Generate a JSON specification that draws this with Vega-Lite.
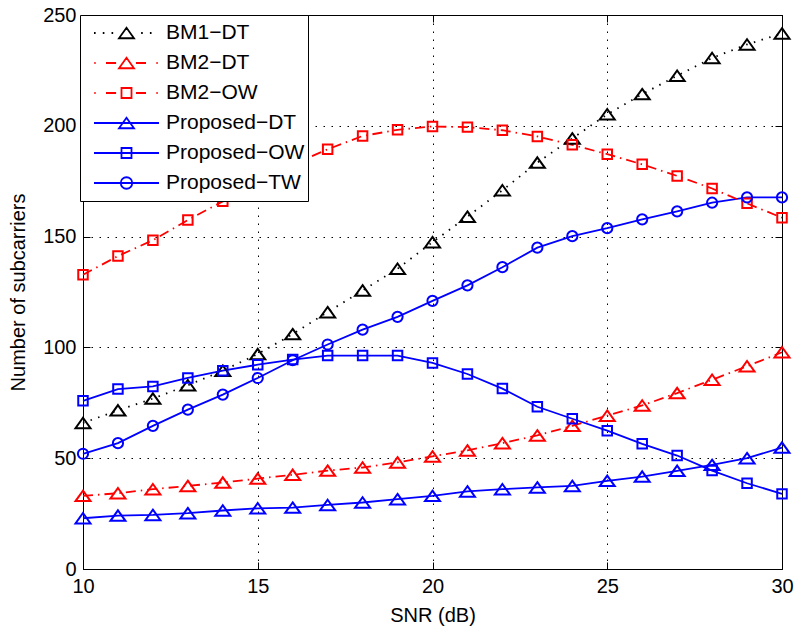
{
  "$schema": "https://vega.github.io/schema/vega-lite/v6.json",
  "width": 699,
  "height": 554,
  "autosize": {"type": "none"},
  "padding": {"left": 83, "top": 15, "right": 13, "bottom": 58},
  "background": "white",
  "view": {"stroke": "black", "strokeWidth": 1},
  "config": {
    "font": "Liberation Sans",
    "axis": {
      "labelFont": "Liberation Sans", "labelFontSize": 20, "labelColor": "black", "labelFlush": false,
      "titleFont": "Liberation Sans", "titleFontSize": 20, "titleFontWeight": "normal", "titleColor": "black",
      "domainColor": "black", "domainWidth": 1, "tickColor": "black", "tickSize": -7, "tickWidth": 1,
      "gridColor": "black", "gridOpacity": 1, "gridDash": [1.5, 6.5], "gridWidth": 1
    }
  },
  "data": {
    "values": [
      {"snr": 10, "BM1−DT": 65.9, "BM2−DT": 33.0, "BM2−OW": 132.8, "Proposed−DT": 22.9, "Proposed−OW": 75.9, "Proposed−TW": 52.0},
      {"snr": 11, "BM1−DT": 71.6, "BM2−DT": 34.2, "BM2−OW": 141.2, "Proposed−DT": 24.1, "Proposed−OW": 81.2, "Proposed−TW": 56.8},
      {"snr": 12, "BM1−DT": 76.9, "BM2−DT": 36.0, "BM2−OW": 148.4, "Proposed−DT": 24.4, "Proposed−OW": 82.4, "Proposed−TW": 64.6},
      {"snr": 13, "BM1−DT": 82.9, "BM2−DT": 37.5, "BM2−OW": 157.5, "Proposed−DT": 25.2, "Proposed−OW": 86.2, "Proposed−TW": 71.9},
      {"snr": 14, "BM1−DT": 89.5, "BM2−DT": 39.0, "BM2−OW": 165.9, "Proposed−DT": 26.4, "Proposed−OW": 89.5, "Proposed−TW": 78.7},
      {"snr": 15, "BM1−DT": 97.0, "BM2−DT": 40.8, "BM2−OW": 174.5, "Proposed−DT": 27.4, "Proposed−OW": 92.2, "Proposed−TW": 86.2},
      {"snr": 16, "BM1−DT": 106.0, "BM2−DT": 42.5, "BM2−OW": 182.5, "Proposed−DT": 27.7, "Proposed−OW": 94.5, "Proposed−TW": 94.2},
      {"snr": 17, "BM1−DT": 115.9, "BM2−DT": 44.4, "BM2−OW": 189.4, "Proposed−DT": 28.9, "Proposed−OW": 96.3, "Proposed−TW": 101.3},
      {"snr": 18, "BM1−DT": 125.7, "BM2−DT": 45.8, "BM2−OW": 195.4, "Proposed−DT": 30.0, "Proposed−OW": 96.3, "Proposed−TW": 108.0},
      {"snr": 19, "BM1−DT": 135.5, "BM2−DT": 48.1, "BM2−OW": 198.2, "Proposed−DT": 31.5, "Proposed−OW": 96.3, "Proposed−TW": 113.8},
      {"snr": 20, "BM1−DT": 147.5, "BM2−DT": 50.8, "BM2−OW": 199.7, "Proposed−DT": 33.0, "Proposed−OW": 93.0, "Proposed−TW": 121.0},
      {"snr": 21, "BM1−DT": 159.0, "BM2−DT": 53.5, "BM2−OW": 199.4, "Proposed−DT": 35.0, "Proposed−OW": 88.0, "Proposed−TW": 128.0},
      {"snr": 22, "BM1−DT": 170.9, "BM2−DT": 56.8, "BM2−OW": 198.0, "Proposed−DT": 36.0, "Proposed−OW": 81.4, "Proposed−TW": 136.2},
      {"snr": 23, "BM1−DT": 183.4, "BM2−DT": 60.3, "BM2−OW": 195.2, "Proposed−DT": 36.8, "Proposed−OW": 73.2, "Proposed−TW": 145.0},
      {"snr": 24, "BM1−DT": 194.3, "BM2−DT": 64.6, "BM2−OW": 191.4, "Proposed−DT": 37.5, "Proposed−OW": 67.8, "Proposed−TW": 150.2},
      {"snr": 25, "BM1−DT": 205.2, "BM2−DT": 69.2, "BM2−OW": 187.2, "Proposed−DT": 39.8, "Proposed−OW": 62.4, "Proposed−TW": 153.8},
      {"snr": 26, "BM1−DT": 214.3, "BM2−DT": 73.8, "BM2−OW": 182.6, "Proposed−DT": 41.7, "Proposed−OW": 56.5, "Proposed−TW": 157.8},
      {"snr": 27, "BM1−DT": 222.6, "BM2−DT": 79.4, "BM2−OW": 177.4, "Proposed−DT": 44.3, "Proposed−OW": 51.2, "Proposed−TW": 161.4},
      {"snr": 28, "BM1−DT": 230.6, "BM2−DT": 85.4, "BM2−OW": 171.7, "Proposed−DT": 47.0, "Proposed−OW": 44.4, "Proposed−TW": 165.3},
      {"snr": 29, "BM1−DT": 236.7, "BM2−DT": 91.5, "BM2−OW": 165.0, "Proposed−DT": 50.0, "Proposed−OW": 38.7, "Proposed−TW": 167.7},
      {"snr": 30, "BM1−DT": 241.7, "BM2−DT": 97.8, "BM2−OW": 158.5, "Proposed−DT": 54.8, "Proposed−OW": 33.9, "Proposed−TW": 167.7}
    ]
  },
  "transform": [
    {"fold": ["BM1−DT", "BM2−DT", "BM2−OW", "Proposed−DT", "Proposed−OW", "Proposed−TW"], "as": ["series", "n"]}
  ],
  "encoding": {
    "x": {"field": "snr", "type": "quantitative", "scale": {"domain": [10, 30], "nice": false, "zero": false}, "axis": null},
    "y": {"field": "n", "type": "quantitative", "scale": {"domain": [0, 250], "nice": false}, "axis": null},
    "color": {"field": "series", "type": "nominal",
              "scale": {"domain": ["BM1−DT", "BM2−DT", "BM2−OW", "Proposed−DT", "Proposed−OW", "Proposed−TW"],
                        "range": ["#000000", "#ff0000", "#ff0000", "#0000ff", "#0000ff", "#0000ff"]},
              "legend": {
                "orient": "none", "legendX": -3, "legendY": 0,
                "title": null,
                "padding": 3,
                "strokeColor": "black", "fillColor": "white",
                "symbolSize": 4225,
                "clipHeight": 30,
                "rowPadding": 0,
                "labelFont": "Liberation Sans", "labelFontSize": 21, "labelColor": "black",
                "labelOffset": 6, "labelLimit": 300,
                "symbolOffset": 10,
                "symbolStrokeWidth": 1.8,
                "symbolFillColor": "transparent",
                "symbolOpacity": 1
              }}
  },
  "layer": [
    {
      "transform": [{"filter": {"field": "snr", "lt": 0}}],
      "mark": {"type": "point", "filled": false, "strokeWidth": 1.8, "size": 4225},
      "encoding": {
        "shape": {"field": "series", "type": "nominal",
                  "scale": {"domain": ["BM1−DT", "BM2−DT", "BM2−OW", "Proposed−DT", "Proposed−OW", "Proposed−TW"],
                            "range": [
                              "M-1,0L-0.95,0M-0.73,0L-0.68,0M-0.46,0L-0.41,0M0.45,0L0.5,0M0.72,0L0.77,0M0,-0.1615L0.231,0.1615L-0.231,0.1615Z",
                              "M-0.99,0L-0.95,0M-0.63,0L-0.32,0M0.29,0L0.6,0M0.92,0L0.96,0M0,-0.1615L0.231,0.1615L-0.231,0.1615Z",
                              "M-0.99,0L-0.95,0M-0.63,0L-0.32,0M0.29,0L0.6,0M0.92,0L0.96,0M-0.154,-0.154L0.154,-0.154L0.154,0.154L-0.154,0.154Z",
                              "M-1,0L1,0M0,-0.1615L0.231,0.1615L-0.231,0.1615Z",
                              "M-1,0L1,0M-0.154,-0.154L0.154,-0.154L0.154,0.154L-0.154,0.154Z",
                              "M-1,0L1,0M0.177,0A0.177,0.177,0,1,1,-0.177,0A0.177,0.177,0,1,1,0.177,0Z"
                            ]},
                  "legend": null}
      }
    },
    {
      "transform": [{"filter": {"field": "series", "oneOf": ["Proposed−DT", "Proposed−OW", "Proposed−TW"]}}],
      "mark": {"type": "line", "strokeWidth": 1.8},
      "encoding": {
        "x": {"field": "snr", "type": "quantitative",
              "axis": {"orient": "bottom", "values": [10, 15, 20, 25, 30], "title": "SNR (dB)", "labelPadding": 14, "titlePadding": 9, "grid": true}},
        "y": {"field": "n", "type": "quantitative",
              "axis": {"orient": "left", "values": [0, 50, 100, 150, 200, 250], "title": "Number of subcarriers", "labelPadding": 14, "titlePadding": 14, "grid": true}}
      }
    },
    {
      "transform": [{"filter": {"field": "series", "oneOf": ["BM1−DT"]}}],
      "mark": {"type": "line", "strokeWidth": 1.8, "strokeDash": [1.5, 6.5]}
    },
    {
      "transform": [{"filter": {"field": "series", "oneOf": ["BM2−DT", "BM2−OW"]}}],
      "mark": {"type": "line", "strokeWidth": 1.8, "strokeDash": [10, 5, 1.5, 5]}
    },
    {
      "transform": [{"filter": {"field": "series", "oneOf": ["BM1−DT", "BM2−DT", "Proposed−DT"]}}],
      "mark": {"type": "point", "filled": false, "strokeWidth": 2, "opacity": 1, "shape": "M0,-0.7L1,0.7L-1,0.7Z", "size": 225},
      "encoding": {
        "x": {"field": "snr", "type": "quantitative",
              "axis": {"orient": "top", "values": [10, 15, 20, 25, 30], "labels": false, "title": null, "grid": false, "domain": true, "ticks": true}},
        "y": {"field": "n", "type": "quantitative",
              "axis": {"orient": "right", "values": [0, 50, 100, 150, 200, 250], "labels": false, "title": null, "grid": false, "domain": true, "ticks": true}}
      }
    },
    {
      "transform": [{"filter": {"field": "series", "oneOf": ["BM2−OW", "Proposed−OW"]}}],
      "mark": {"type": "point", "filled": false, "strokeWidth": 2, "opacity": 1, "shape": "square", "size": 90}
    },
    {
      "transform": [{"filter": {"field": "series", "oneOf": ["Proposed−TW"]}}],
      "mark": {"type": "point", "filled": false, "strokeWidth": 2, "opacity": 1, "shape": "circle", "size": 104}
    }
  ]
}
